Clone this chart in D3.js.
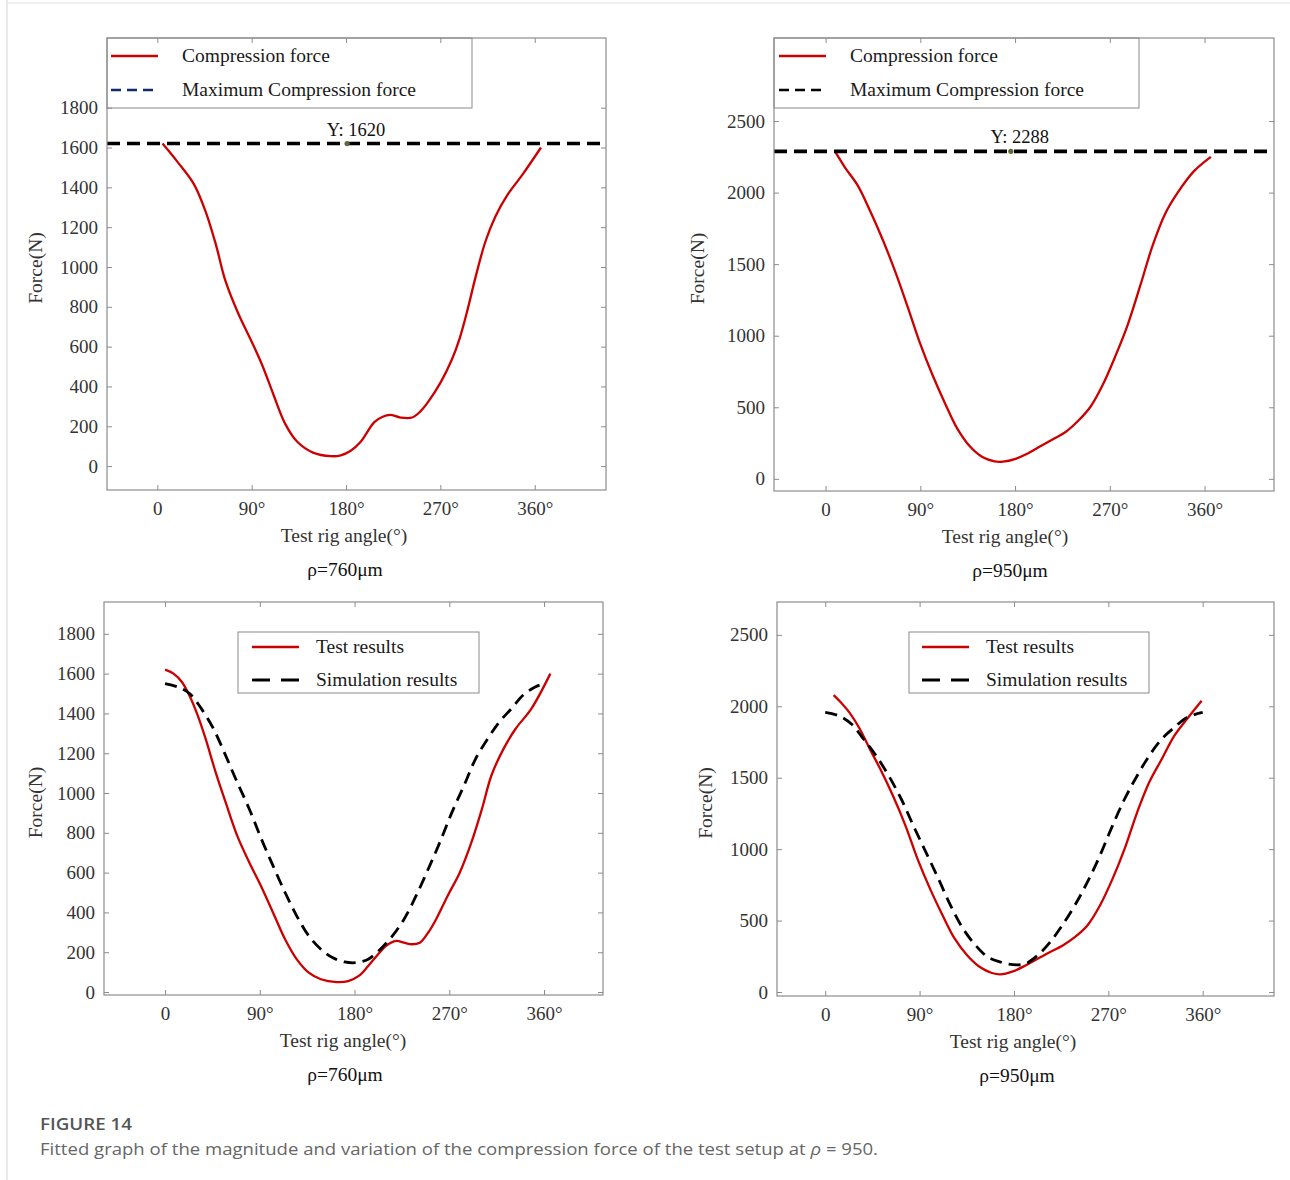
<!DOCTYPE html>
<html>
<head>
<meta charset="utf-8">
<script src="https://cdn.jsdelivr.net/npm/d3@7"></script>
<style>
  body { margin: 0; background: #fff; }
  svg { display: block; }
</style>
</head>
<body>
<svg id="chart" width="1290" height="1180"></svg>
<script>
// angles (deg) and forces (N)
var xTickValues = [0, 90, 180, 270, 360];
var xTickLabels = ["0", "90°", "180°", "270°", "360°"];
var yTicks760 = [0, 200, 400, 600, 800, 1000, 1200, 1400, 1600, 1800];
var yTicks950 = [0, 500, 1000, 1500, 2000, 2500];

// top left: rho = 760
var tlAngle = [5, 20, 35, 46.5, 56, 65, 77, 90, 100, 111, 122, 133.5, 148.5, 165.5, 175, 184.5, 194, 207, 215, 222, 232, 243, 251, 258, 270, 281, 288.5, 296, 303.5, 313, 322.5, 334, 349, 366];
var tlForce = [1620, 1523, 1415, 1272, 1110, 930, 769, 625, 508, 356, 212, 122, 68, 50, 54, 77, 122, 221, 248, 257, 244, 244, 275, 320, 418, 535, 643, 787, 948, 1128, 1254, 1362, 1469, 1600];
var tlMax = 1620;

// top right: rho = 950
var trAngle = [9, 18.5, 30.5, 42, 54, 66, 78, 89.5, 101.5, 113.5, 125, 137, 149, 160.5, 168.5, 180.5, 192, 204, 216, 228, 239.5, 251.5, 263, 275, 287, 299, 310.5, 322.5, 334.5, 350, 366];
var trForce = [2288, 2175, 2050, 1876, 1676, 1451, 1201, 952, 727, 527, 352, 227, 152, 122, 120, 140, 177, 227, 277, 327, 402, 502, 652, 852, 1076, 1351, 1626, 1851, 2000, 2150, 2250];
var trMax = 2288;

// bottom left: test vs simulation, rho = 760
var blTestAngle = [0, 8, 16, 23, 31, 38.5, 48, 57.5, 68.5, 80, 91, 102.5, 114, 125, 136.5, 148, 163, 174, 184, 193, 201, 210, 219.5, 227, 234.5, 242, 250, 257.5, 268.5, 280, 291, 301, 310, 321.5, 333, 348, 366];
var blTestForce = [1620, 1600, 1558, 1491, 1390, 1273, 1105, 954, 786, 651, 534, 400, 265, 165, 97, 64, 50, 55, 81, 131, 181, 232, 257, 248, 240, 248, 299, 366, 484, 601, 752, 920, 1088, 1222, 1323, 1424, 1600];
var blSimAngle = [0, 12, 23.5, 34.5, 46, 57.5, 68.5, 80, 91.5, 102.5, 114, 125, 136.5, 148, 159, 170.5, 182, 193, 204.5, 216, 227, 238.5, 250, 261, 272.5, 284, 295, 306.5, 317.5, 329, 340, 351.5, 360];
var blSimForce = [1550, 1533, 1499, 1424, 1323, 1189, 1054, 920, 769, 635, 500, 383, 282, 215, 173, 151, 148, 165, 215, 282, 366, 484, 618, 752, 903, 1038, 1172, 1273, 1357, 1424, 1491, 1533, 1550];

// bottom right: test vs simulation, rho = 950
var brTestAngle = [8, 15, 23, 33, 42.5, 52.5, 64.5, 76.5, 88, 100, 112, 123.5, 135.5, 147.5, 159, 167, 179, 191, 202.5, 214.5, 226.5, 238, 250, 262, 274, 285.5, 297.5, 309, 321, 333, 345, 359];
var brTestForce = [2078, 2027, 1957, 1841, 1701, 1561, 1375, 1165, 932, 722, 536, 373, 256, 175, 133, 123, 144, 186, 233, 280, 326, 384, 466, 606, 792, 1002, 1258, 1468, 1631, 1794, 1911, 2039];
var brSimAngle = [0, 13, 25, 36.5, 48.5, 60.5, 72.5, 84, 96, 108, 119.5, 131.5, 143.5, 155, 167, 179, 191, 202.5, 214.5, 226, 238, 250, 262, 274, 285.5, 297.5, 309, 321, 333, 345, 360];
var brSimForce = [1957, 1934, 1876, 1771, 1654, 1514, 1351, 1165, 979, 792, 606, 443, 326, 245, 210, 191, 198, 256, 349, 466, 606, 769, 955, 1165, 1351, 1514, 1654, 1771, 1852, 1922, 1957];

var RED = "#cc0000";
var serif = "'Liberation Serif', 'Times New Roman', serif";
var svg = d3.select("#chart");

// faint page frame
svg.append("line").attr("x1", 7).attr("y1", 0).attr("x2", 7).attr("y2", 1180).attr("stroke", "#d4d4d4");
svg.append("line").attr("x1", 7).attr("y1", 3).attr("x2", 1290).attr("y2", 3).attr("stroke", "#e2e2e2");

function zip(a, b) {
    return a.map(function(v, i) { return [v, b[i]]; });
}

function drawPanel(p) {
    var g = svg.append("g");
    var x = d3.scaleLinear().domain(p.xDomain).range([p.left, p.right]);
    var y = d3.scaleLinear().domain(p.yDomain).range([p.bottom, p.top]);

    var clipId = "clip" + p.id;
    svg.append("clipPath").attr("id", clipId)
        .append("rect")
        .attr("x", p.left).attr("y", p.top)
        .attr("width", p.right - p.left).attr("height", p.bottom - p.top);

    var line = d3.line()
        .x(function(d) { return x(d[0]); })
        .y(function(d) { return y(d[1]); })
        .curve(d3.curveCatmullRom.alpha(0.5));

    var plot = g.append("g").attr("clip-path", "url(#" + clipId + ")");

    p.series.forEach(function(s) {
        plot.append("path")
            .datum(zip(s.x, s.y))
            .attr("d", line)
            .attr("fill", "none")
            .attr("stroke", s.color)
            .attr("stroke-width", s.width)
            .attr("stroke-linejoin", "round")
            .attr("stroke-dasharray", s.dash || null);
    });

    if (p.maxValue !== undefined) {
        plot.append("line")
            .attr("x1", p.left).attr("x2", p.right)
            .attr("y1", y(p.maxValue)).attr("y2", y(p.maxValue))
            .attr("stroke", "#000")
            .attr("stroke-width", 3.6)
            .attr("stroke-dasharray", "13,7");
        g.append("circle")
            .attr("cx", x(p.tipAngle)).attr("cy", y(p.maxValue))
            .attr("r", 2.6)
            .attr("fill", "#5d6b3a");
        g.append("text")
            .attr("x", x(p.tipAngle) + 9)
            .attr("y", y(p.maxValue) - 8)
            .attr("text-anchor", "middle")
            .attr("font-family", serif)
            .attr("font-size", 18.5)
            .attr("fill", "#111")
            .text("Y: " + p.maxValue);
    }

    // legend
    var L = p.legend;
    var lg = g.append("g");
    lg.append("rect")
        .attr("x", L.x).attr("y", L.y).attr("width", L.w).attr("height", L.h)
        .attr("fill", "#fff").attr("stroke", "#8a8a8a").attr("stroke-width", 1);
    L.items.forEach(function(it, i) {
        var ry = L.rows[i];
        lg.append("line")
            .attr("x1", L.x1).attr("x2", L.x2).attr("y1", ry).attr("y2", ry)
            .attr("stroke", it.color).attr("stroke-width", it.width)
            .attr("stroke-dasharray", it.dash || null);
        lg.append("text")
            .attr("x", L.tx).attr("y", ry).attr("dy", "0.33em")
            .attr("font-family", serif).attr("font-size", 19.5)
            .attr("fill", "#1a1a1a")
            .text(it.label);
    });

    // box with inward ticks on all four sides
    g.append("rect")
        .attr("x", p.left).attr("y", p.top)
        .attr("width", p.right - p.left).attr("height", p.bottom - p.top)
        .attr("fill", "none").attr("stroke", "#8c8c8c").attr("stroke-width", 1.2);

    var axB = g.append("g").attr("transform", "translate(0," + p.bottom + ")")
        .call(d3.axisBottom(x).tickValues(xTickValues)
            .tickFormat(function(d, i) { return xTickLabels[i]; })
            .tickSize(-5).tickPadding(12));
    var axT = g.append("g").attr("transform", "translate(0," + p.top + ")")
        .call(d3.axisTop(x).tickValues(xTickValues).tickFormat("").tickSize(-5));
    var axL = g.append("g").attr("transform", "translate(" + p.left + ",0)")
        .call(d3.axisLeft(y).tickValues(p.yTicks).tickFormat(d3.format("d"))
            .tickSize(-5).tickPadding(9));
    var axR = g.append("g").attr("transform", "translate(" + p.right + ",0)")
        .call(d3.axisRight(y).tickValues(p.yTicks).tickFormat("").tickSize(-5));

    [axB, axT, axL, axR].forEach(function(a) {
        a.select(".domain").remove();
        a.selectAll(".tick line").attr("stroke", "#8c8c8c");
        a.selectAll("text")
            .attr("font-family", serif)
            .attr("font-size", 19)
            .attr("fill", "#333");
    });

    g.append("text")
        .attr("x", p.labelX).attr("y", p.bottom + 52)
        .attr("text-anchor", "middle")
        .attr("font-family", serif).attr("font-size", 19.5).attr("fill", "#333")
        .text("Test rig angle(°)");
    g.append("text")
        .attr("x", p.titleX).attr("y", p.bottom + 86)
        .attr("text-anchor", "middle")
        .attr("font-family", serif).attr("font-size", 19.5).attr("fill", "#111")
        .text(p.title);
    g.append("text")
        .attr("transform", "translate(" + p.yLabelX + "," + ((p.top + p.bottom) / 2 + 4) + ") rotate(-90)")
        .attr("text-anchor", "middle")
        .attr("font-family", serif).attr("font-size", 19.5).attr("fill", "#333")
        .text("Force(N)");
}

drawPanel({
    id: "tl", left: 107, right: 606, top: 38, bottom: 490,
    xDomain: [-48, 428], yDomain: [-120, 2150], yTicks: yTicks760,
    title: "ρ=760μm", labelX: 344, titleX: 345, yLabelX: 42,
    series: [{ x: tlAngle, y: tlForce, color: RED, width: 2.3 }],
    maxValue: tlMax, tipAngle: 181,
    legend: {
        x: 107, y: 38, w: 365, h: 70, x1: 111, x2: 158, tx: 182, rows: [56, 90],
        items: [
            { label: "Compression force", color: RED, width: 2.3 },
            { label: "Maximum Compression force", color: "#12296b", width: 2.6, dash: "10,6" }
        ]
    }
});

drawPanel({
    id: "tr", left: 774, right: 1274, top: 38, bottom: 491,
    xDomain: [-49, 426], yDomain: [-85, 3080], yTicks: yTicks950,
    title: "ρ=950μm", labelX: 1005, titleX: 1010, yLabelX: 704,
    series: [{ x: trAngle, y: trForce, color: RED, width: 2.3 }],
    maxValue: trMax, tipAngle: 176,
    legend: {
        x: 774, y: 38, w: 365, h: 70, x1: 779, x2: 826, tx: 850, rows: [56, 90],
        items: [
            { label: "Compression force", color: RED, width: 2.3 },
            { label: "Maximum Compression force", color: "#000", width: 2.6, dash: "10,6" }
        ]
    }
});

drawPanel({
    id: "bl", left: 104, right: 603, top: 602, bottom: 995,
    xDomain: [-58, 416], yDomain: [-15, 1960], yTicks: yTicks760,
    title: "ρ=760μm", labelX: 343, titleX: 345, yLabelX: 42,
    series: [
        { x: blTestAngle, y: blTestForce, color: RED, width: 2.3 },
        { x: blSimAngle, y: blSimForce, color: "#000", width: 2.8, dash: "12,7" }
    ],
    legend: {
        x: 238, y: 632, w: 241, h: 61, x1: 252, x2: 299, tx: 316, rows: [647, 680],
        items: [
            { label: "Test results", color: RED, width: 2.3 },
            { label: "Simulation results", color: "#000", width: 2.8, dash: "18,11" }
        ]
    }
});

drawPanel({
    id: "br", left: 777, right: 1274, top: 602, bottom: 996,
    xDomain: [-46, 428], yDomain: [-28, 2730], yTicks: yTicks950,
    title: "ρ=950μm", labelX: 1013, titleX: 1017, yLabelX: 712,
    series: [
        { x: brTestAngle, y: brTestForce, color: RED, width: 2.3 },
        { x: brSimAngle, y: brSimForce, color: "#000", width: 2.8, dash: "12,7" }
    ],
    legend: {
        x: 909, y: 632, w: 240, h: 61, x1: 922, x2: 969, tx: 986, rows: [647, 680],
        items: [
            { label: "Test results", color: RED, width: 2.3 },
            { label: "Simulation results", color: "#000", width: 2.8, dash: "18,11" }
        ]
    }
});

// caption
svg.append("text")
    .attr("x", 40).attr("y", 1130)
    .attr("font-family", "'Open Sans', 'Noto Sans', sans-serif")
    .attr("font-size", 17).attr("font-weight", 600).attr("fill", "#555")
    .attr("textLength", 92).attr("lengthAdjust", "spacingAndGlyphs")
    .text("FIGURE 14");
var cap = svg.append("text")
    .attr("x", 40).attr("y", 1155)
    .attr("font-family", "'Open Sans', 'Noto Sans', sans-serif")
    .attr("font-size", 17).attr("fill", "#666")
    .attr("textLength", 838).attr("lengthAdjust", "spacingAndGlyphs");
cap.append("tspan").text("Fitted graph of the magnitude and variation of the compression force of the test setup at ");
cap.append("tspan").attr("font-style", "italic").text("ρ");
cap.append("tspan").text(" = 950.");
</script>
</body>
</html>
